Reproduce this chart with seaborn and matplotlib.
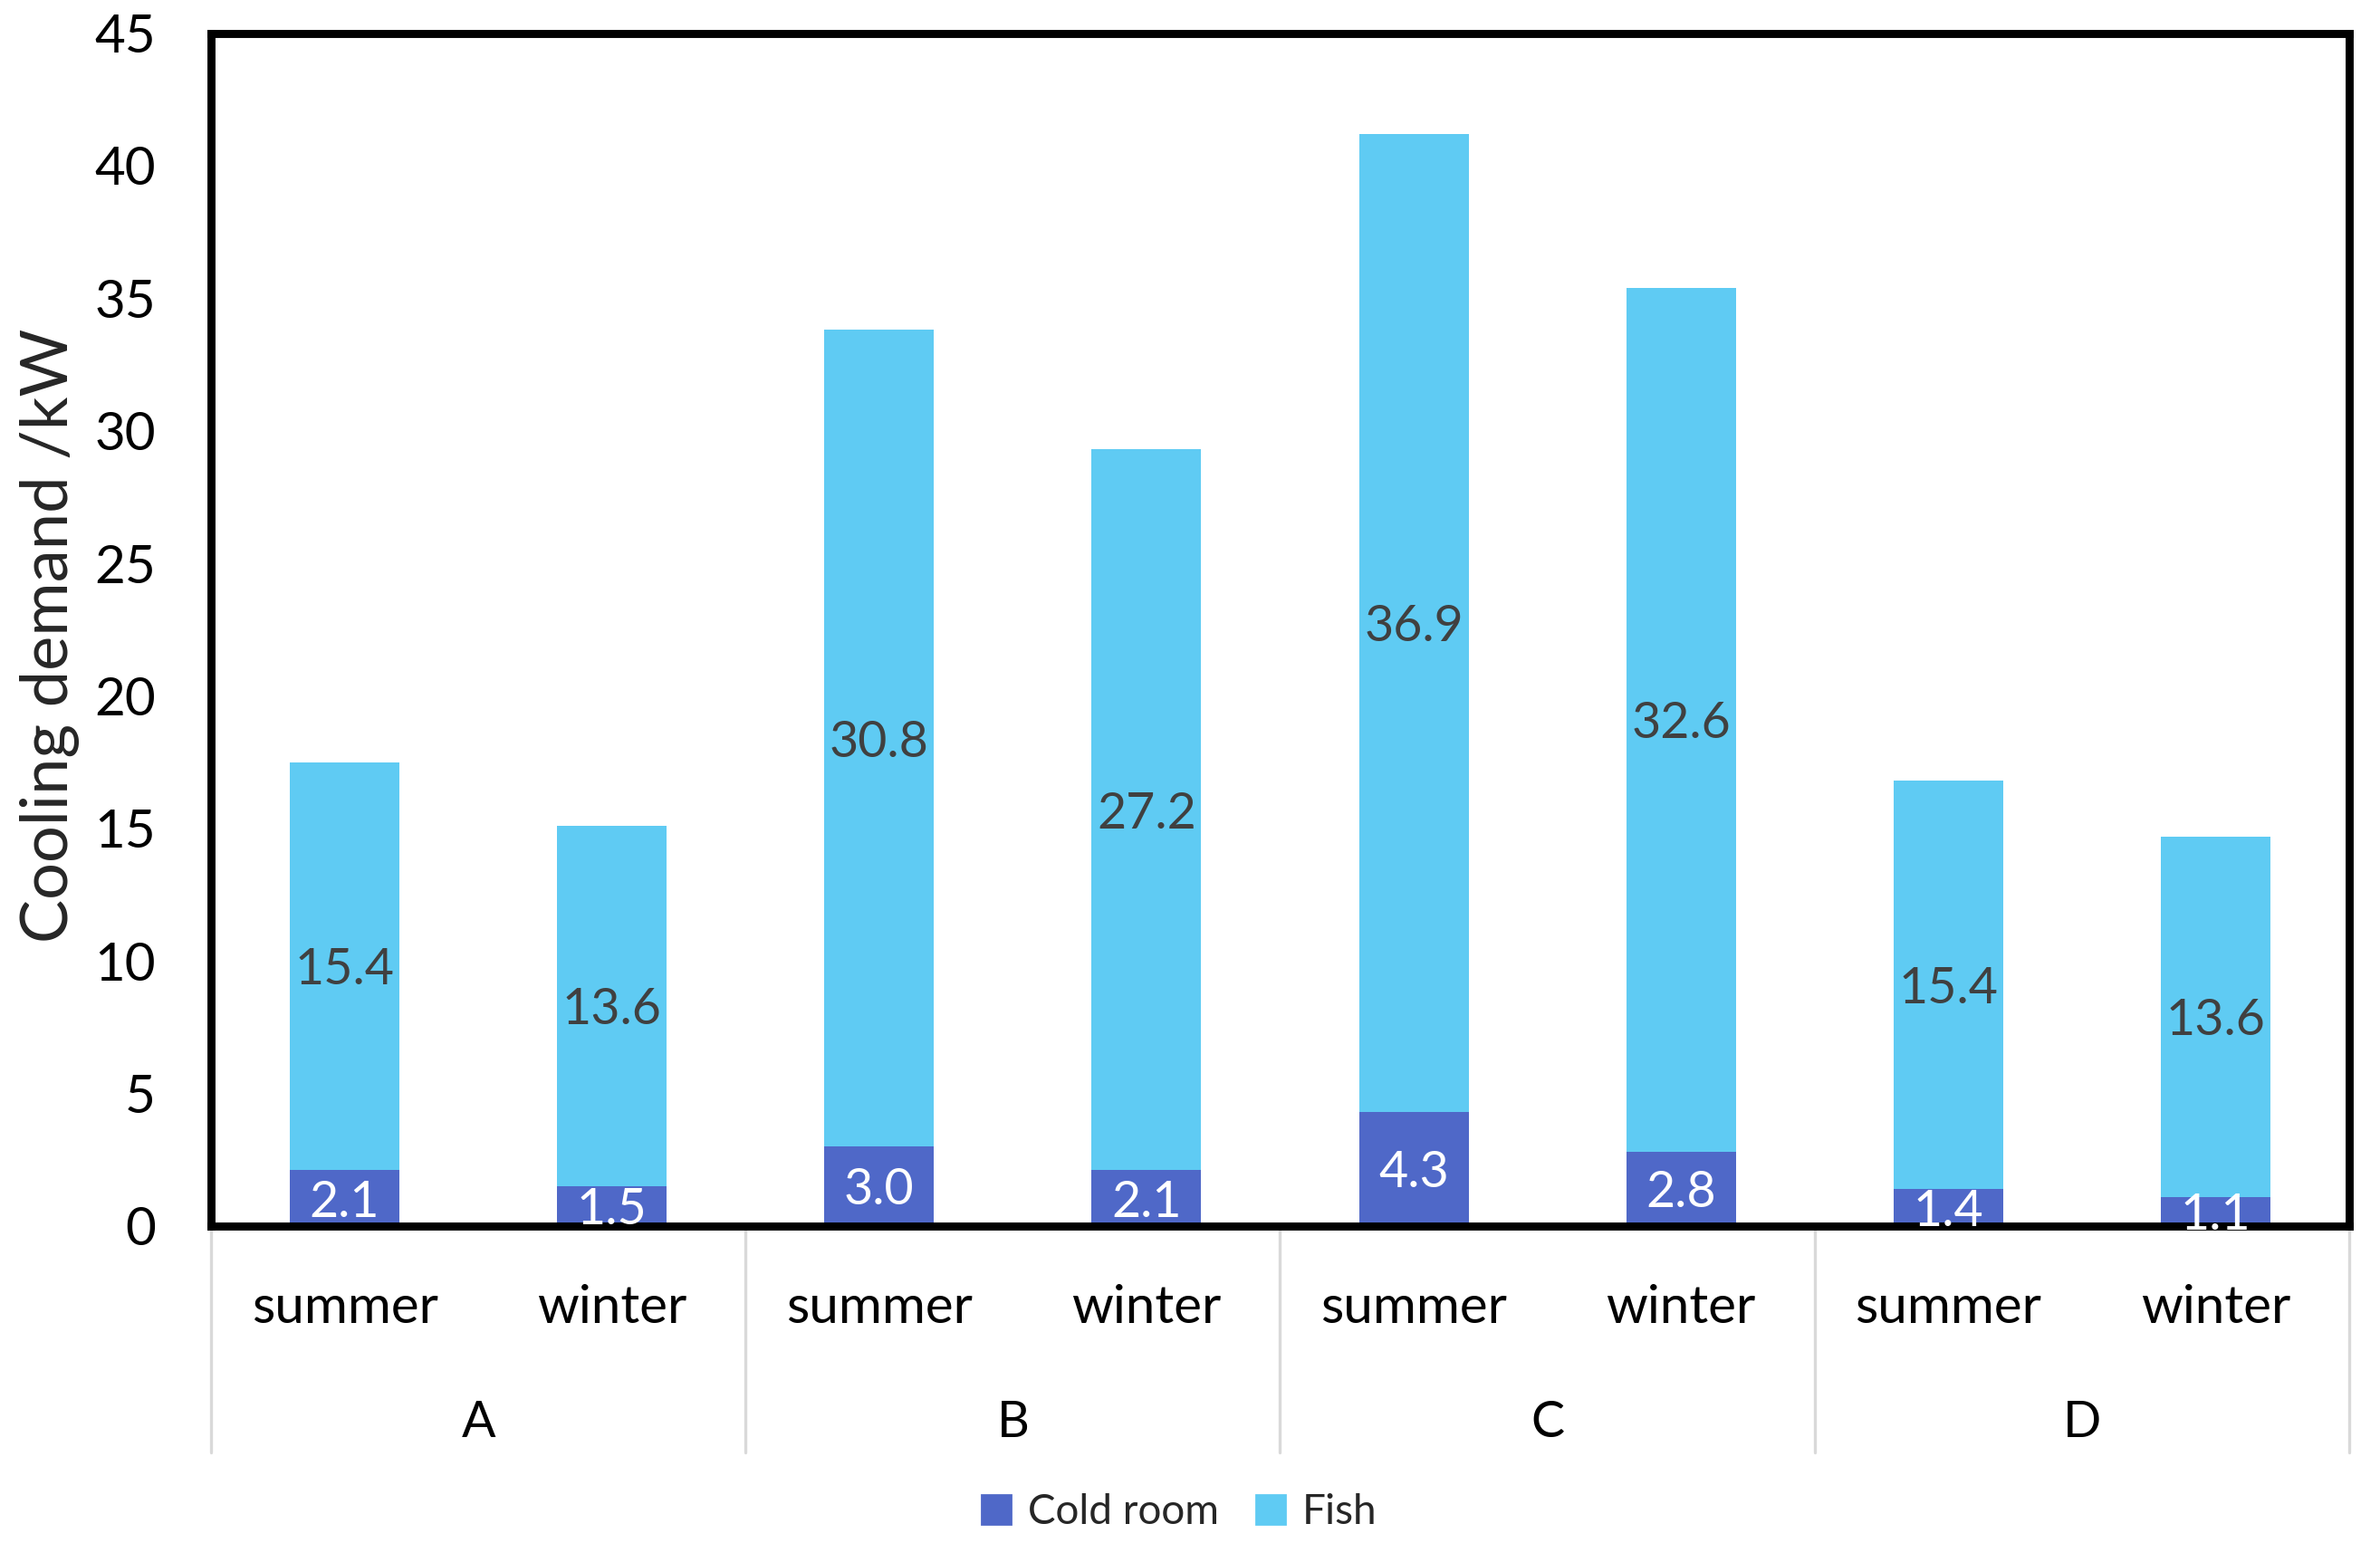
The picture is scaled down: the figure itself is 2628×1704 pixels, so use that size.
import matplotlib
matplotlib.use('Agg')
import matplotlib.pyplot as plt
import matplotlib.transforms as mtransforms
from matplotlib.patches import Patch
import seaborn as sns
import pandas as pd

# data
sites = ['A', 'A', 'B', 'B', 'C', 'C', 'D', 'D']
seasons = ['summer', 'winter'] * 4
cold_room = [2.1, 1.5, 3.0, 2.1, 4.3, 2.8, 1.4, 1.1]
fish = [15.4, 13.6, 30.8, 27.2, 36.9, 32.6, 15.4, 13.6]
y_ticks = [0, 5, 10, 15, 20, 25, 30, 35, 40, 45]

sns.set_theme(style='white')
plt.rcParams['font.family'] = ['Lato', 'DejaVu Sans']

df = pd.DataFrame({'site': sites, 'season': seasons,
                   'Cold room': cold_room, 'Fish': fish})
df['key'] = df['site'] + ' ' + df['season']
df['total'] = df['Cold room'] + df['Fish']

fig = plt.figure(figsize=(13.14, 8.52), dpi=200)
ax = fig.add_axes([0.0887, 0.2055, 0.8983, 0.7730])

# stacked bars: total (fish on top) then cold room drawn over the bottom part
sns.barplot(data=df, x='key', y='total', color='#5FCBF3', width=0.41,
            saturation=1, errorbar=None, linewidth=0, edgecolor='none', ax=ax)
sns.barplot(data=df, x='key', y='Cold room', color='#4F68C8', width=0.41,
            saturation=1, errorbar=None, linewidth=0, edgecolor='none', ax=ax)

ax.set_ylim(0, 45)
ax.set_xlim(-0.5, len(df) - 0.5)
ax.set_yticks(y_ticks)
ax.tick_params(axis='y', length=0, pad=22, labelsize=21, colors='black')
ax.set_xticks(range(len(df)))
ax.set_xticklabels([])
ax.tick_params(axis='x', length=0)
ax.set_xlabel('')
ax.set_ylabel('')

for s in ax.spines.values():
    s.set_color('black')
    s.set_linewidth(3.2)

# value labels
for i, (c, f) in enumerate(zip(df['Cold room'], df['Fish'])):
    ax.text(i, c / 2, f'{c:.1f}', ha='center', va='center_baseline', color='white', fontsize=20, zorder=5)
    ax.text(i, c + f / 2, f'{f:.1f}', ha='center', va='center_baseline', color='#404040', fontsize=20, zorder=5)

# two-level category axis
trans = mtransforms.blended_transform_factory(ax.transData, ax.transAxes)
for i, s in enumerate(df['season']):
    ax.text(i, -0.069, s, transform=trans, ha='center', va='center', fontsize=21, color='black')
groups = df.groupby('site', sort=False).size()
start = 0
for g, n in groups.items():
    ax.text(start + (n - 1) / 2, -0.165, g, transform=trans, ha='center', va='center',
            fontsize=20, color='black')
    start += n
edges = [-0.5]
for n in groups.values:
    edges.append(edges[-1] + n)
for e in edges:
    ax.plot([e, e], [0, -0.19], transform=trans, color='#D9D9D9', lw=1.2, clip_on=False, zorder=1)

# y label
fig.text(0.021, 0.588, 'Cooling demand /kW', rotation=90, ha='center', va='center', fontsize=26)

# legend
handles = [Patch(color='#4F68C8', label='Cold room'), Patch(color='#5FCBF3', label='Fish')]
fig.legend(handles=handles, loc='center', bbox_to_anchor=(0.4955, 0.02), ncol=2, frameon=False,
           fontsize=16.5, handlelength=0.7, handleheight=0.7, handletextpad=0.4, columnspacing=0.9)

fig.savefig('out.png', dpi=200)
